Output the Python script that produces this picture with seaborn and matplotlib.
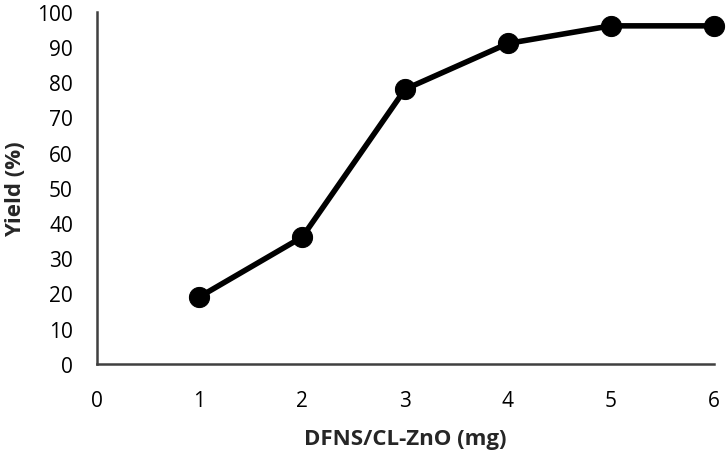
import pandas as pd
import seaborn as sns
import matplotlib.pyplot as plt

# Catalyst amount vs yield
amount_mg = [1, 2, 3, 4, 5, 6]
yield_pct = [19, 36, 78, 91, 96, 96]
x_ticks = [0, 1, 2, 3, 4, 5, 6]
y_ticks = [0, 10, 20, 30, 40, 50, 60, 70, 80, 90, 100]

df = pd.DataFrame({'amount': amount_mg, 'yield': yield_pct})

sns.set_style('white')
plt.rcParams['font.family'] = ['Open Sans', 'DejaVu Sans']

fig = plt.figure(figsize=(7.26, 4.56), dpi=100)
ax = fig.add_axes([0.133, 0.2, 0.85, 0.772])

sns.lineplot(x='amount', y='yield', data=df, ax=ax, color='black',
             linewidth=4, marker='o', markersize=14.5, markeredgecolor='black',
             clip_on=False)

ax.set_xlim(0, 6)
ax.set_ylim(0, 100)
ax.set_xticks(x_ticks)
ax.set_yticks(y_ticks)
ax.tick_params(axis='both', length=0, labelsize=15, colors='black')
ax.tick_params(axis='x', pad=19)
ax.tick_params(axis='y', pad=17)

for side in ['top', 'right']:
    ax.spines[side].set_visible(False)
for side in ['left', 'bottom']:
    ax.spines[side].set_color('#404040')
    ax.spines[side].set_linewidth(1.8)

ax.set_xlabel('DFNS/CL-ZnO (mg)', fontsize=16, fontweight='bold', labelpad=12)
ax.set_ylabel('Yield (%)', fontsize=16, fontweight='bold', labelpad=8)

fig.savefig('out.png', dpi=100)
